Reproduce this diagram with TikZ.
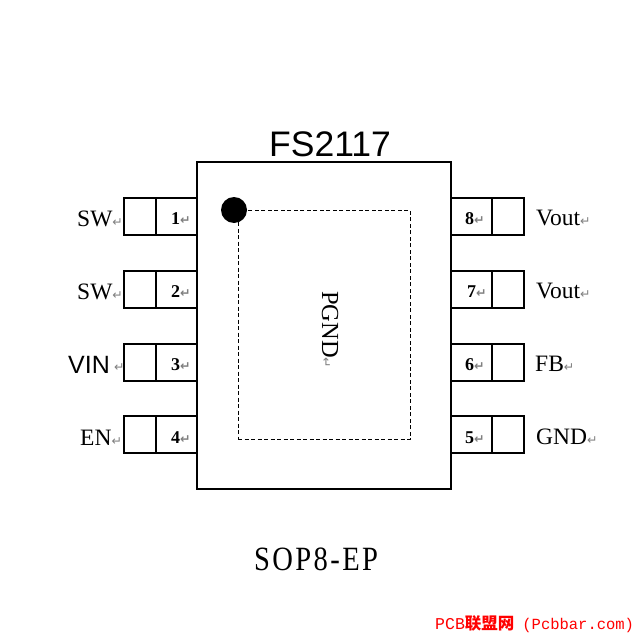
\documentclass[tikz,border=0pt]{standalone}
\usepackage{fontspec}
\setmainfont{Liberation Serif}
\newfontfamily\arialf{Liberation Sans}
\newfontfamily\dejaf{DejaVu Sans}
\newfontfamily\sopf[FakeStretch=0.84,LetterSpace=7]{Liberation Serif}
\newfontfamily\monof[FontFace={bx}{n}{Liberation Mono Bold}]{Liberation Mono}
\newfontfamily\cjkf{Noto Sans CJK SC}
\definecolor{retgray}{gray}{0.5}
\newcommand{\ret}{{\dejaf\fontsize{12.5}{12.5}\selectfont\textcolor{retgray}{↵}}}
\tikzset{
  x=1pt,y=-1pt,
  lbl/.style={inner sep=0pt,anchor=base west,font=\fontsize{23.5}{23.5}\selectfont},
  num/.style={inner sep=0pt,anchor=base west,font=\fontsize{18}{18}\selectfont\bfseries},
  pinbox/.style={draw=black,line width=2pt,inner sep=0pt,outer sep=0pt,minimum height=37pt,anchor=north west},
  chipbox/.style={draw=black,line width=2pt,inner sep=0pt,outer sep=0pt,minimum width=254pt,minimum height=327pt,anchor=north west},
  padbox/.style={draw=black,line width=0.9pt,dash pattern=on 4pt off 2.5pt,inner sep=0pt,outer sep=0pt,minimum width=172pt,minimum height=229pt,anchor=north west},
  pinone/.style={circle,fill=black,inner sep=0pt,minimum size=26pt}
}
\begin{document}
\begin{tikzpicture}
\useasboundingbox[fill=white] (0,0) rectangle (637,637);
% left pins
\foreach \n/\yy in {a/198,b/271,c/344,d/416}{
  \node[pinbox,minimum width=32pt] (L\n o) at (124,\yy) {};
  \node[pinbox,minimum width=41pt] (L\n i) at (156,\yy) {};
}
% right pins
\foreach \n/\yy in {a/198,b/271,c/344,d/416}{
  \node[pinbox,minimum width=41pt] (R\n i) at (451,\yy) {};
  \node[pinbox,minimum width=32pt] (R\n o) at (492,\yy) {};
}
\node[chipbox,fill=white] (chip) at (197,162) {};
\node[padbox] (pad) at (238,210) {};
\node[pinone] (dot) at (234,210) {};
% title
\node[inner sep=0pt,anchor=base west,font=\arialf\fontsize{35.5}{35.5}\selectfont] (title) at (269,156) {FS2117};
% left labels
\node[lbl] (t1) at (77,226) {SW\ret};
\node[lbl] (t2) at (77,299) {SW\ret};
\node[lbl,font=\arialf\fontsize{25}{25}\selectfont] (t3) at (68,373) {VIN};
\node[inner sep=0pt,anchor=base west] (t3r) at (114,371) {\ret};
\node[lbl] (t4) at (80,445) {EN\ret};
% numbers
\node[num] (n1) at (171,224) {1\ret};
\node[num] (n2) at (171,297) {2\ret};
\node[num] (n3) at (171,370) {3\ret};
\node[num] (n4) at (171,443) {4\ret};
\node[num] (n8) at (465,224) {8\ret};
\node[num] (n7) at (467,297) {7\ret};
\node[num] (n6) at (465,370) {6\ret};
\node[num] (n5) at (465,443) {5\ret};
% right labels
\node[lbl] (t8) at (536,225) {Vout\ret};
\node[lbl] (t7) at (536,298) {Vout\ret};
\node[lbl] (t6) at (535,371) {FB\ret};
\node[lbl] (t5) at (536,444) {GND\ret};
% PGND
\node[inner sep=0pt,anchor=base west,rotate=-90,font=\fontsize{24.5}{24.5}\selectfont] (pg) at (322,291) {PGND\ret};
% package
\node[inner sep=0pt,anchor=base west,font=\sopf\fontsize{34}{34}\selectfont] (pkg) at (254,570) {SOP8-EP};
% watermark
\node[inner sep=0pt,anchor=base west,text=red,font=\monof\fontsize{16.5}{16.5}\selectfont] (wm) at (435,629) {PCB{\cjkf\bfseries 联盟网}\hspace{8pt}{\fontsize{15.5}{15.5}\selectfont (Pcbbar.com)}};
\end{tikzpicture}
\end{document}
